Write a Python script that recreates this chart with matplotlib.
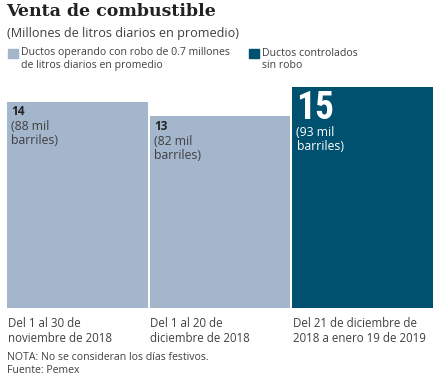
import matplotlib
matplotlib.use("Agg")
import matplotlib.pyplot as plt

# datos
periodos = ["Del 1 al 30 de\nnoviembre de 2018",
            "Del 1 al 20 de\ndiciembre de 2018",
            "Del 21 de diciembre de\n2018 a enero 19 de 2019"]
litros = [14, 13, 15]  # millones de litros diarios
barriles = ["(88 mil\nbarriles)", "(82 mil\nbarriles)", "(93 mil\nbarriles)"]
con_robo = [True, True, False]

light = "#a3b6cb"
dark = "#00506f"
txt = "#404040"
sans = "Open Sans"

W, H = 441, 381
fig = plt.figure(figsize=(W / 100, H / 100), dpi=100)

def fx(px):
    return px / W

def fy(py):
    return 1 - py / H

# bar axes: baseline at y=308, value 15 at y=87
ax = fig.add_axes([fx(7), fy(308), fx(435 - 7), (308 - 87) / H])
x = range(len(litros))
colors = [light if r else dark for r in con_robo]
ax.bar(x, litros, width=0.986, color=colors, align="edge")
ax.set_xlim(0, 3)
ax.set_ylim(0, 15)
ax.axis("off")

for i, (v, b, r) in enumerate(zip(litros, barriles, con_robo)):
    if r:
        ax.annotate(str(v), (i, v), xytext=(3, -2.5), textcoords="offset points",
                    ha="left", va="top", fontsize=8.5, fontweight="bold",
                    color="#222222", family=sans)
        ax.annotate(b, (i, v), xytext=(3, -13), textcoords="offset points",
                    ha="left", va="top", fontsize=8.8, color=txt, family=sans,
                    linespacing=1.15)
    else:
        ax.annotate(str(v), (i, v), xytext=(2.5, -2), textcoords="offset points",
                    ha="left", va="top", fontsize=27, fontweight="bold",
                    color="white", family="Roboto Condensed")
        ax.annotate(b, (i, v), xytext=(3, -28), textcoords="offset points",
                    ha="left", va="top", fontsize=8.8, color="white", family=sans,
                    linespacing=1.15)
    ax.annotate(periodos[i], (i, 0), xytext=(0.5, -6.5), textcoords="offset points",
                ha="left", va="top", fontsize=8.3, color=txt, family=sans,
                linespacing=1.2, annotation_clip=False)

# titulo
fig.text(fx(6), fy(12), "Venta de combustible", ha="left", va="center",
         fontsize=12.5, fontweight="heavy", family="DejaVu Serif", color="#222222")
fig.text(fx(7), fy(34), "(Millones de litros diarios en promedio)", ha="left",
         va="center", fontsize=9.1, color=txt, family=sans)

# leyenda
fig.patches.append(plt.Rectangle((fx(8), fy(58)), fx(10), 9 / H, color=light,
                                 transform=fig.transFigure, figure=fig))
fig.text(fx(21), fy(47.5), "Ductos operando con robo de 0.7 millones\nde litros diarios en promedio",
         ha="left", va="top", fontsize=7.6, color=txt, family=sans, linespacing=1.15)
fig.patches.append(plt.Rectangle((fx(249), fy(58)), fx(10), 9 / H, color=dark,
                                 transform=fig.transFigure, figure=fig))
fig.text(fx(262), fy(47.5), "Ductos controlados\nsin robo",
         ha="left", va="top", fontsize=7.6, color=txt, family=sans, linespacing=1.15)

# notas
fig.text(fx(7), fy(352), "NOTA: No se consideran los días festivos.\nFuente: Pemex",
         ha="left", va="top", fontsize=7.6, color=txt, family=sans, linespacing=1.2)

fig.savefig("out.png", dpi=100)
